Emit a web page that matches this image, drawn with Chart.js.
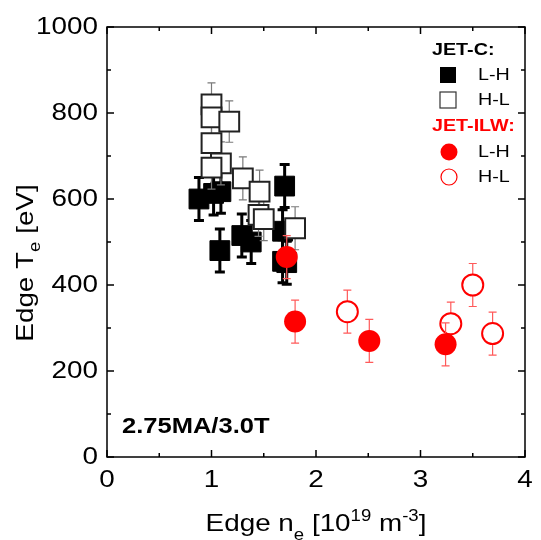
<!DOCTYPE html>
<html>
<head>
<meta charset="utf-8">
<script src="https://cdn.jsdelivr.net/npm/chart.js@4"></script>
<style>
  html, body { margin: 0; padding: 0; background: #fff; overflow: hidden; }
  #c { display: block; }
</style>
</head>
<body>
<canvas id="c" width="541" height="540"></canvas>
<script>
// JET-C, L-H (filled squares)
const cLH_x = [0.88, 1.02, 1.09, 1.70, 1.08, 1.29, 1.38, 1.68, 1.68, 1.72];
const cLH_y = [600, 613, 617, 630, 480, 515, 500, 525, 455, 452];
const cLH_err = [50, 50, 50, 50, 50, 50, 50, 50, 50, 50];

// JET-C, H-L (open squares)
const cHL_x = [1.0, 1.0, 1.17, 1.0, 1.09, 1.0, 1.30, 1.46, 1.45, 1.50, 1.80];
const cHL_y = [820, 790, 780, 730, 683, 673, 648, 617, 563, 553, 532];
const cHL_err = [50, 50, 48, 50, 50, 50, 50, 50, 50, 50, 50];

// JET-ILW, L-H (filled circles)
const ilwLH_x = [1.72, 1.80, 2.51, 3.24];
const ilwLH_y = [465, 315, 270, 262];
const ilwLH_err = [50, 50, 50, 50];

// JET-ILW, H-L (open circles)
const ilwHL_x = [2.30, 3.29, 3.50, 3.69];
const ilwHL_y = [338, 310, 400, 287];
const ilwHL_err = [50, 50, 50, 50];

// ticks
const xMajor = [0, 1, 2, 3, 4];
const xMinor = [0.5, 1.5, 2.5, 3.5];
const yMajor = [0, 200, 400, 600, 800, 1000];
const yMinor = [100, 300, 500, 700, 900];

const toPts = (xs, ys) => xs.map((x, i) => ({ x: x, y: ys[i] }));

const SX = 1.16; // text in the figure is wider than plain Arial

// draw text stretched horizontally
function txt(ctx, s, x, y, align, font, color) {
  ctx.save();
  ctx.font = font;
  ctx.fillStyle = color;
  ctx.textBaseline = 'middle';
  ctx.textAlign = 'left';
  const w = ctx.measureText(s).width * SX;
  let x0 = x;
  if (align === 'right') x0 = x - w;
  else if (align === 'center') x0 = x - w / 2;
  ctx.translate(x0, y);
  ctx.scale(SX, 1);
  ctx.fillText(s, 0, 0);
  ctx.restore();
}

// text with sub/superscripts, centred on (0,0) of current transform, baseline at y=8
function richText(ctx, parts) {
  ctx.save();
  ctx.textBaseline = 'alphabetic';
  ctx.textAlign = 'left';
  ctx.fillStyle = '#000';
  let total = 0;
  parts.forEach(p => {
    ctx.font = p.s + 'px Arial, "Liberation Sans"';
    p.w = ctx.measureText(p.t).width * SX;
    total += p.w;
  });
  let x = -total / 2;
  parts.forEach(p => {
    ctx.save();
    ctx.font = p.s + 'px Arial, "Liberation Sans"';
    ctx.translate(x, 8 + p.dy);
    ctx.scale(SX, 1);
    ctx.fillText(p.t, 0, 0);
    ctx.restore();
    x += p.w;
  });
  ctx.restore();
}

const errorBars = {
  id: 'errorBars',
  beforeDatasetDraw(chart, args) {
    const ds = chart.data.datasets[args.index];
    if (!ds.errY) return;
    const ctx = chart.ctx;
    const xs = chart.scales.x, ys = chart.scales.y;
    ctx.save();
    ctx.strokeStyle = ds.errColor;
    ctx.lineWidth = ds.errWidth;
    ds.data.forEach((p, i) => {
      const px = xs.getPixelForValue(p.x);
      const top = ys.getPixelForValue(p.y + ds.errY[i]);
      const bot = ys.getPixelForValue(p.y - ds.errY[i]);
      const c = ds.capHalf;
      ctx.beginPath();
      ctx.moveTo(px, top); ctx.lineTo(px, bot);
      ctx.moveTo(px - c, top); ctx.lineTo(px + c, top);
      ctx.moveTo(px - c, bot); ctx.lineTo(px + c, bot);
      ctx.stroke();
    });
    ctx.restore();
  }
};

const frame = {
  id: 'frame',
  afterDraw(chart) {
    const ctx = chart.ctx;
    const a = chart.chartArea;
    const xs = chart.scales.x, ys = chart.scales.y;
    const font = '24px Arial, "Liberation Sans"';

    ctx.save();
    ctx.strokeStyle = '#000';
    ctx.lineWidth = 1.5;
    ctx.strokeRect(a.left, a.top, a.right - a.left, a.bottom - a.top);

    ctx.beginPath();
    const tick = (vals, len) => {
      vals.forEach(v => {
        const px = xs.getPixelForValue(v);
        ctx.moveTo(px, a.bottom); ctx.lineTo(px, a.bottom - len);
        ctx.moveTo(px, a.top); ctx.lineTo(px, a.top + len);
      });
    };
    const ytick = (vals, len) => {
      vals.forEach(v => {
        const py = ys.getPixelForValue(v);
        ctx.moveTo(a.left, py); ctx.lineTo(a.left + len, py);
        ctx.moveTo(a.right, py); ctx.lineTo(a.right - len, py);
      });
    };
    tick(xMajor, 7); tick(xMinor, 4);
    ytick(yMajor, 7); ytick(yMinor, 4);
    ctx.stroke();
    ctx.restore();

    // tick labels
    xMajor.forEach(v => txt(ctx, String(v), xs.getPixelForValue(v), a.bottom + 23, 'center', font, '#000'));
    yMajor.forEach(v => txt(ctx, String(v), a.left - 9, ys.getPixelForValue(v), 'right', font, '#000'));

    // axis titles
    ctx.save();
    ctx.translate((a.left + a.right) / 2, 523);
    richText(ctx, [
      { t: 'Edge n', s: 24, dy: 0 },
      { t: 'e', s: 16, dy: 9 },
      { t: ' [10', s: 24, dy: 0 },
      { t: '19', s: 16, dy: -10 },
      { t: ' m', s: 24, dy: 0 },
      { t: '-3', s: 16, dy: -10 },
      { t: ']', s: 24, dy: 0 }
    ]);
    ctx.restore();

    ctx.save();
    ctx.translate(25, 263);
    ctx.rotate(-Math.PI / 2);
    richText(ctx, [
      { t: 'Edge T', s: 24, dy: 0 },
      { t: 'e', s: 16, dy: 7 },
      { t: ' [eV]', s: 24, dy: 0 }
    ]);
    ctx.restore();

    // annotation
    txt(ctx, '2.75MA/3.0T', 122, 427, 'left', 'bold 22px Arial, "Liberation Sans"', '#000');

    // legend
    const lf = '17px Arial, "Liberation Sans"';
    const bf = 'bold 17px Arial, "Liberation Sans"';
    const mx = 448;
    txt(ctx, 'JET-C:', 432, 50, 'left', bf, '#000');
    ctx.save();
    ctx.fillStyle = '#000';
    ctx.fillRect(mx - 8, 67, 16, 16);
    ctx.fillStyle = '#fff';
    ctx.strokeStyle = '#333';
    ctx.lineWidth = 1.2;
    ctx.fillRect(mx - 8, 92, 16, 16);
    ctx.strokeRect(mx - 8, 92, 16, 16);
    ctx.restore();
    txt(ctx, 'L-H', 478, 75, 'left', lf, '#000');
    txt(ctx, 'H-L', 478, 100, 'left', lf, '#000');

    txt(ctx, 'JET-ILW:', 432, 126, 'left', bf, '#ff0000');
    ctx.save();
    ctx.fillStyle = '#ff0000';
    ctx.beginPath(); ctx.arc(mx + 1, 152, 8.5, 0, Math.PI * 2); ctx.fill();
    ctx.strokeStyle = '#ff0000';
    ctx.lineWidth = 1.2;
    ctx.beginPath(); ctx.arc(mx + 1, 177, 8, 0, Math.PI * 2); ctx.stroke();
    ctx.restore();
    txt(ctx, 'L-H', 478, 152, 'left', lf, '#000');
    txt(ctx, 'H-L', 478, 177, 'left', lf, '#000');
  }
};

new Chart(document.getElementById('c'), {
  type: 'scatter',
  data: {
    datasets: [
      {
        label: 'JET-ILW L-H',
        data: toPts(ilwLH_x, ilwLH_y),
        errY: ilwLH_err, errColor: '#ff5a5a', errWidth: 1.2, capHalf: 4,
        pointStyle: 'circle', pointRadius: 11,
        backgroundColor: '#ff0000', borderColor: '#ff0000', borderWidth: 0,
        order: 1
      },
      {
        label: 'JET-ILW H-L',
        data: toPts(ilwHL_x, ilwHL_y),
        errY: ilwHL_err, errColor: '#ff5a5a', errWidth: 1.2, capHalf: 4,
        pointStyle: 'circle', pointRadius: 10.5,
        backgroundColor: '#ffffff', borderColor: '#ff0000', borderWidth: 2,
        order: 2
      },
      {
        label: 'JET-C H-L',
        data: toPts(cHL_x, cHL_y),
        errY: cHL_err, errColor: '#7a7a7a', errWidth: 1.2, capHalf: 4,
        pointStyle: 'rect', pointRadius: 14,
        backgroundColor: '#ffffff', borderColor: '#222222', borderWidth: 2,
        order: 3
      },
      {
        label: 'JET-C L-H',
        data: toPts(cLH_x, cLH_y),
        errY: cLH_err, errColor: '#000000', errWidth: 3, capHalf: 5,
        pointStyle: 'rect', pointRadius: 14,
        backgroundColor: '#000000', borderColor: '#000000', borderWidth: 1,
        order: 4
      }
    ]
  },
  options: {
    responsive: false,
    animation: false,
    layout: { padding: { left: 107, right: 9, top: 27, bottom: 83 } },
    scales: {
      x: { type: 'linear', min: 0, max: 4, display: false },
      y: { type: 'linear', min: 0, max: 1000, display: false }
    },
    plugins: {
      legend: { display: false },
      tooltip: { enabled: false }
    }
  },
  plugins: [errorBars, frame]
});
</script>
</body>
</html>
